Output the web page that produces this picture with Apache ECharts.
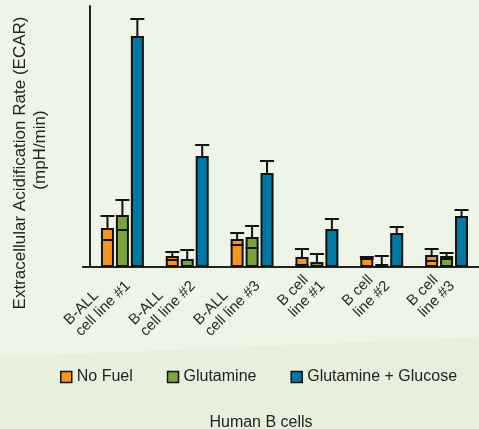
<!DOCTYPE html>
<html><head><meta charset="utf-8">
<script src="https://cdn.jsdelivr.net/npm/echarts@6/dist/echarts.min.js"></script>
<style>html,body{margin:0;padding:0;background:#eef4e6}#c{width:479px;height:429px}</style>
</head><body><div id="c"></div>
<script>
// categories (two-line labels)
var categories = ['B-ALL\ncell line #1', 'B-ALL\ncell line #2', 'B-ALL\ncell line #3', 'B cell\nline #1', 'B cell\nline #2', 'B cell\nline #3'];
var seriesNames = ['No Fuel', 'Glutamine', 'Glutamine + Glucose'];
// values (arbitrary units, no tick labels in original)
var noFuel = [39, 11, 28, 10, 9, 12];
var noFuelErr = [12, 4, 6, 8, 1, 6];
var glutamine = [52, 8, 30, 5, 3, 11];
var glutamineErr = [15, 9, 11, 8, 8, 3];
var glutGlucose = [231, 111, 94, 38, 34, 51];
var glutGlucoseErr = [17, 11, 12, 10, 6, 6];
var yMax = 261;

var colors = ['#f7941d', '#7aa33d', '#007aa5'];
var showLowerCap = [true, true, false];
var values = [noFuel, glutamine, glutGlucose];
var errs = [noFuelErr, glutamineErr, glutGlucoseErr];
var FONT = '"Liberation Sans", Arial, sans-serif';
var LBL = 15;
var barW = 13, gapPct = 0.15;

var chart = echarts.init(document.getElementById('c'));
var series = [];
seriesNames.forEach(function (name, i) {
  series.push({
    name: name, type: 'bar', data: values[i], barWidth: barW, barGap: (gapPct * 100) + '%',
    itemStyle: { color: colors[i], borderColor: '#111', borderWidth: 2 }, z: 2
  });
});
seriesNames.forEach(function (name, i) {
  var d = values[i].map(function (v, k) { return [k, v, errs[i][k]]; });
  series.push({
    type: 'custom', name: name + ' err', data: d, z: 5, silent: true,
    encode: { x: 0, y: 1 },
    renderItem: function (params, api) {
      var k = api.value(0), v = api.value(1), e = api.value(2);
      var off = (i - 1) * barW * (1 + gapPct);
      var p = api.coord([k, v]);
      var t = api.coord([k, v + e]);
      var x = p[0] + off;
      var hw = 7;
      var st = { stroke: '#111', lineWidth: 2 };
      var ch = [
        { type: 'line', shape: { x1: x, y1: p[1], x2: x, y2: t[1] }, style: st },
        { type: 'line', shape: { x1: x - hw, y1: t[1], x2: x + hw, y2: t[1] }, style: st }
      ];
      if (showLowerCap[i] && v - e > 1) {
        var b = api.coord([k, v - e]);
        ch.push({ type: 'line', shape: { x1: x - barW / 2, y1: b[1], x2: x + barW / 2, y2: b[1] }, style: st });
      }
      return { type: 'group', children: ch };
    }
  });
});

chart.setOption({
  backgroundColor: '#eef4e6',
  animation: false,
  textStyle: { fontFamily: FONT },
  grid: { left: 90, right: 0, top: 6, bottom: 162, containLabel: false },
  legend: {
    data: seriesNames, left: 55, top: 364, itemWidth: 11, itemHeight: 11, itemGap: 34,
    icon: 'rect', textStyle: { fontSize: 16, color: '#222', fontFamily: FONT },
    itemStyle: { borderColor: '#111', borderWidth: 1.5 }
  },
  xAxis: {
    type: 'category', data: categories, boundaryGap: true,
    axisLine: { lineStyle: { color: '#222', width: 2 } },
    axisTick: { length: 9, lineStyle: { color: '#222', width: 2 } },
    axisLabel: {
      rotate: 45, margin: 11, color: '#2a2a2a', fontSize: LBL, interval: 0,
      formatter: function (v) {
        return v.split('\n').map(function (l) { return '{a|' + l + '}'; }).join('\n');
      },
      rich: { a: { fontSize: LBL, color: '#2a2a2a', fontFamily: FONT, align: 'left', lineHeight: 16 } }
    }
  },
  yAxis: {
    type: 'value', min: 0, max: yMax,
    axisLine: { show: true, lineStyle: { color: '#222', width: 2 } },
    axisTick: { show: true, length: 8, customValues: [0], lineStyle: { color: '#222', width: 2 } },
    axisLabel: { show: false }, splitLine: { show: false }
  },
  graphic: [
    { type: 'polygon', shape: { points: [[0, 357], [479, 337], [479, 429], [0, 429]] }, style: { fill: '#e8f0dd' }, z: -10, silent: true },
    { type: 'text', x: 20, y: 163, rotation: Math.PI / 2, style: { text: 'Extracellular Acidification Rate (ECAR)', font: '17px ' + FONT, fill: '#222', align: 'center', verticalAlign: 'middle' } },
    { type: 'text', x: 40, y: 150, rotation: Math.PI / 2, style: { text: '(mpH/min)', font: '17px ' + FONT, fill: '#222', align: 'center', verticalAlign: 'middle' } },
    { type: 'text', x: 261, y: 423, style: { text: 'Human B cells', font: '16px ' + FONT, fill: '#222', align: 'center', verticalAlign: 'middle' } }
  ],
  series: series
});
</script></body></html>
